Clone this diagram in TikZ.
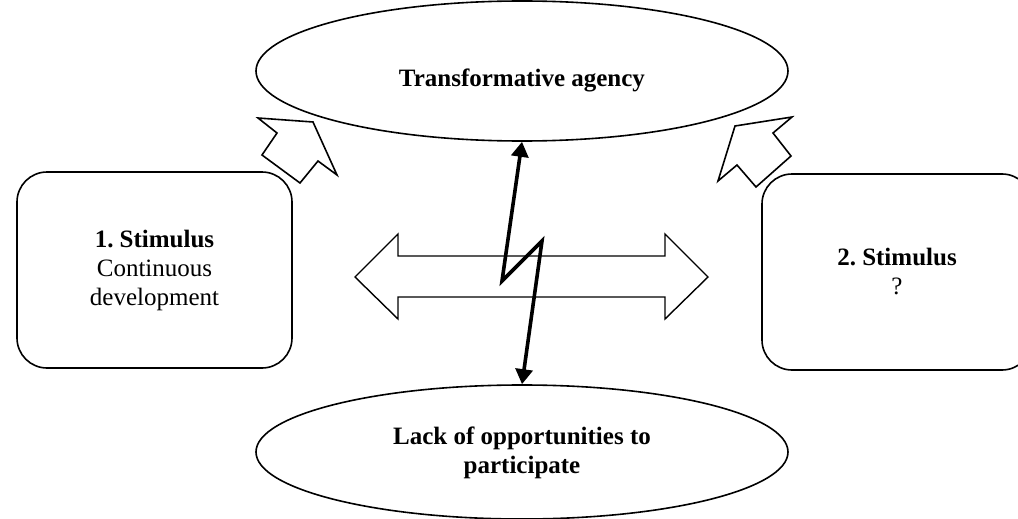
\documentclass[tikz,border=0pt]{standalone}
\usepackage{fontspec}
\setmainfont{Liberation Serif}
\usetikzlibrary{shapes.geometric,arrows.meta,calc}
\frenchspacing
\begin{document}
\begin{tikzpicture}[x=1pt,y=-1pt,
  oval/.style={ellipse,draw,line width=1.6pt,inner sep=0pt},
  stimbox/.style={draw,line width=1.6pt,rounded corners=30pt,align=center,inner sep=0pt},
  lbl/.style={align=center,font=\fontsize{25}{29}\selectfont},
  blockarrow/.style={draw,fill=white,line width=1.6pt,line join=miter},
  bolt/.style={line width=3.6pt,line join=miter,{Triangle[length=15pt,width=17pt]}-{Triangle[length=15pt,width=17pt]}}]
\useasboundingbox (0,0) rectangle (1018,519);
% ellipses
\node[oval,minimum width=532pt,minimum height=140pt] (top) at (522,71) {};
\node[lbl] (toplbl) at (522,80) {\textbf{Transformative agency}};
\node[oval,minimum width=532pt,minimum height=134pt] (bot) at (522,452)
  {};
\node[lbl] (botlbl) at (522,453) {\textbf{Lack of opportunities to}\\\textbf{participate}};
% boxes
\node[stimbox,lbl,minimum width=275pt,minimum height=196pt] (left) at (154.5,270)
  {\textbf{1. Stimulus}\\Continuous\\development};
\node[stimbox,lbl,minimum width=270pt,minimum height=196pt] (right) at (897,272)
  {\textbf{2. Stimulus}\\?};
% block arrows
\draw[blockarrow] (258,118) -- (313,122) -- (337,175) -- (318,161) -- (300,183) -- (262,155) -- (277,133) -- cycle;
\draw[blockarrow] (792,117) -- (773,133) -- (791,156) -- (756,187) -- (737,165) -- (718,181) -- (735,126) -- cycle;
% double arrow
\draw[blockarrow,line width=1.4pt] (355,277) -- (398,234) -- (398,256) -- (665,256) -- (665,234) -- (708,277)
  -- (665,319) -- (665,297) -- (398,297) -- (398,319) -- cycle;
% lightning
\coordinate (k1) at (502,281);
\coordinate (k2) at (542,241);
\draw[bolt] (top.south) -- (k1) -- (k2) -- (bot.north);
\end{tikzpicture}
\end{document}
